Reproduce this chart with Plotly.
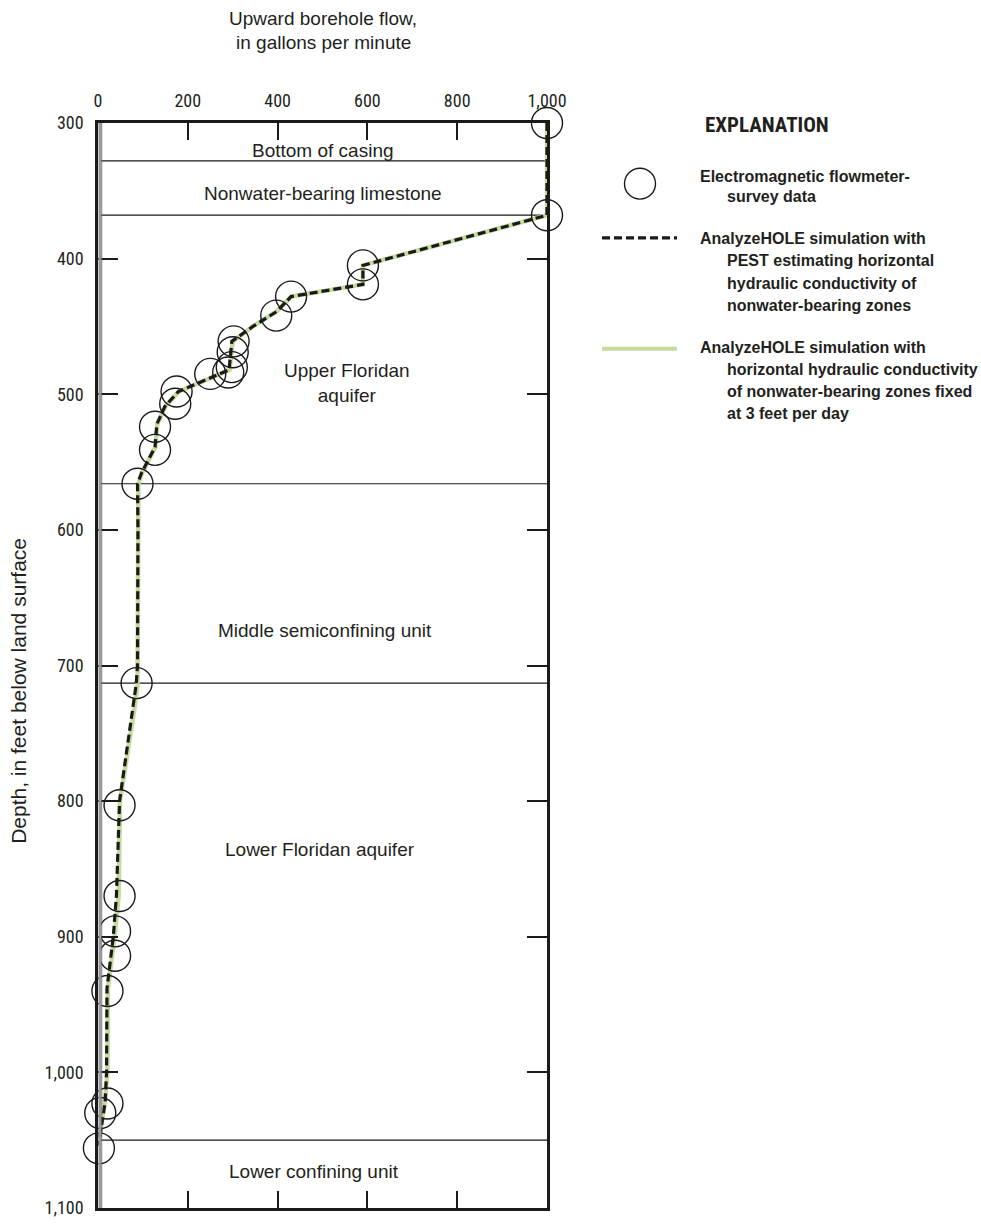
import plotly.graph_objects as go

# ---------------- data ----------------
# Electromagnetic flowmeter-survey data (depth in ft, flow in gpm)
obs_depth = [300, 368, 405, 419, 428, 442, 461, 469, 480, 484, 485, 498, 507, 524, 541, 566,
             713, 803, 870, 896, 914, 940, 1023, 1030, 1056]
obs_flow = [1000, 1000, 590, 590, 430, 397, 302, 300, 298, 290, 250, 175, 172, 127, 127, 88,
            86, 48, 48, 38, 38, 21, 21, 5, 2]

# AnalyzeHOLE simulation with PEST estimating K of nonwater-bearing zones (dashed)
pest_depth = [300, 368, 405, 419, 428, 439, 450, 461, 482, 491, 498, 509, 522, 539, 558, 566,
              600, 700, 714, 800, 870, 900, 938, 1000, 1022, 1054]
pest_flow = [1000, 1000, 590, 590, 430, 398, 345, 298, 292, 227, 179, 149, 131, 127, 97, 88,
             89, 88, 85, 48, 41, 34, 20, 19, 16, 1]

# AnalyzeHOLE simulation with K of nonwater-bearing zones fixed at 3 ft/d (green)
fixed_depth = [300, 368, 405, 419, 428, 439, 450, 461, 482, 491, 498, 509, 522, 539, 558, 566,
               600, 700, 714, 730, 800, 870, 900, 938, 1000, 1022, 1054]
fixed_flow = [1000, 1000, 590, 590, 430, 398, 345, 300, 293, 228, 180, 150, 132, 128, 98, 90,
              90, 89, 88, 82, 49, 46, 37, 22, 21, 15, 0]

# hydrogeologic unit boundaries (depth, ft)
boundary_depths = [328, 368, 566, 713, 1050]
unit_labels = ["Bottom of casing", "Nonwater-bearing limestone", "Upper Floridan<br>aquifer",
               "Middle semiconfining unit", "Lower Floridan aquifer", "Lower confining unit"]
unit_label_x = [500, 500, 555, 505, 495, 480]
unit_label_depth = [320, 352, 492, 674, 836, 1073]

x_ticks = [0, 200, 400, 600, 800, 1000]
x_tick_text = ["0", "200", "400", "600", "800", "1,000"]
y_ticks = [300, 400, 500, 600, 700, 800, 900, 1000, 1100]
y_tick_text = ["300", "400", "500", "600", "700", "800", "900", "1,000", "1,100"]

legend_title = "EXPLANATION"
legend_obs = ["Electromagnetic flowmeter-", "survey data"]
legend_pest = ["AnalyzeHOLE simulation with", "PEST estimating horizontal",
               "hydraulic conductivity of", "nonwater-bearing zones"]
legend_fixed = ["AnalyzeHOLE simulation with", "horizontal hydraulic conductivity",
                "of nonwater-bearing zones fixed", "at 3 feet per day"]

# ---------------- layout constants ----------------
W, H = 981, 1230
L, R, T, B = 98, 434, 123, 16
PW, PH = W - L - R, H - T - B
TXT = "#231f20"
GREEN = "#c6da9e"
FONT = "Liberation Sans, Arial, sans-serif"
NARROW = "Roboto Condensed, Liberation Sans Narrow, Liberation Sans, sans-serif"


def px(x):
    return (x - L) / PW


def py(y):
    return (H - B - y) / PH


fig = go.Figure()

fig.add_trace(go.Scatter(x=fixed_flow, y=fixed_depth, mode="lines",
                         line=dict(color=GREEN, width=4.5), showlegend=False,
                         cliponaxis=False))
fig.add_trace(go.Scatter(x=pest_flow, y=pest_depth, mode="lines",
                         line=dict(color="#1a1a1a", width=3.2, dash="8px,4px"),
                         showlegend=False, cliponaxis=False))
fig.add_trace(go.Scatter(x=obs_flow, y=obs_depth, mode="markers",
                         marker=dict(symbol="circle-open", size=31,
                                     line=dict(color="#1a1a1a", width=1.4),
                                     color="#1a1a1a"),
                         showlegend=False, cliponaxis=False))

shapes = []
for d in boundary_depths:
    shapes.append(dict(type="line", xref="x", yref="y", x0=2, x1=1000, y0=d, y1=d,
                       line=dict(color="#1a1a1a", width=1.2), layer="below"))
# grey double left border
shapes.append(dict(type="line", xref="paper", yref="paper", x0=px(L + 2), x1=px(L + 2),
                   y0=0, y1=1, line=dict(color="#9a9a9a", width=3), layer="above"))
shapes.append(dict(type="line", xref="paper", yref="paper", x0=px(L + 3.8), x1=px(L + 3.8),
                   y0=0, y1=1, line=dict(color="#555555", width=0.6), layer="above"))

# legend symbols
shapes.append(dict(type="circle", xref="paper", yref="paper",
                   x0=px(624.5), x1=px(655.5), y0=py(199.5), y1=py(168.5),
                   line=dict(color="#1a1a1a", width=1.4)))
shapes.append(dict(type="line", xref="paper", yref="paper", x0=px(602), x1=px(677),
                   y0=py(238.5), y1=py(238.5),
                   line=dict(color="#1a1a1a", width=3.2, dash="8px,4px")))
shapes.append(dict(type="line", xref="paper", yref="paper", x0=px(602), x1=px(677),
                   y0=py(350), y1=py(350), line=dict(color=GREEN, width=4)))

annotations = []
for txt, xv, dv in zip(unit_labels, unit_label_x, unit_label_depth):
    annotations.append(dict(text=txt, x=xv, y=dv, xref="x", yref="y", showarrow=False,
                            xanchor="center", yanchor="middle",
                            font=dict(family=FONT, size=19, color=TXT)))

# axis titles
annotations.append(dict(text="Upward borehole flow,", x=px(323), y=py(18), xref="paper",
                        yref="paper", showarrow=False, xanchor="center", yanchor="middle",
                        font=dict(family=FONT, size=19, color=TXT)))
annotations.append(dict(text="in gallons per minute", x=px(323), y=py(42), xref="paper",
                        yref="paper", showarrow=False, xanchor="center", yanchor="middle",
                        font=dict(family=FONT, size=19, color=TXT)))
annotations.append(dict(text="Depth, in feet below land surface", x=px(19), y=py(694),
                        xref="paper", yref="paper", showarrow=False, textangle=-90,
                        xanchor="center", yanchor="middle",
                        font=dict(family=FONT, size=21, color=TXT)))


def leg_text(t, x_left, baseline, bold_size=16, fam=FONT):
    annotations.append(dict(text="<b>" + t + "</b>", x=px(x_left),
                            y=py(baseline - 0.35 * bold_size), xref="paper", yref="paper",
                            showarrow=False, xanchor="left", yanchor="middle",
                            font=dict(family=fam, size=bold_size, color=TXT)))


leg_text(legend_title, 703, 132, 21, NARROW)
leg_text(legend_obs[0], 698, 182)
leg_text(legend_obs[1], 725, 203)
for i, t in enumerate(legend_pest):
    leg_text(t, 698 if i == 0 else 725, 245 + 22.3 * i)
for i, t in enumerate(legend_fixed):
    leg_text(t, 698 if i == 0 else 725, 354 + 22.3 * i)

fig.update_layout(
    width=W, height=H, margin=dict(l=L, r=R, t=T, b=B, pad=0),
    paper_bgcolor="white", plot_bgcolor="white",
    shapes=shapes, annotations=annotations, showlegend=False,
    xaxis=dict(range=[0, 1000], side="top", tickvals=x_ticks, ticktext=x_tick_text,
               ticks="inside", ticklen=17, tickwidth=2, tickcolor="#1a1a1a",
               showline=True, linecolor="#1a1a1a", linewidth=2.5, mirror="ticks",
               showgrid=False, zeroline=False, ticklabelstandoff=6,
               tickfont=dict(family=NARROW, size=18, color=TXT)),
    yaxis=dict(range=[1100, 300], tickvals=y_ticks, ticktext=y_tick_text,
               ticks="inside", ticklen=20, tickwidth=2, tickcolor="#1a1a1a",
               showline=True, linecolor="#1a1a1a", linewidth=2.5, mirror="ticks",
               showgrid=False, zeroline=False, ticklabelstandoff=8,
               tickfont=dict(family=NARROW, size=18, color=TXT)),
)

fig.write_html("out.html")
